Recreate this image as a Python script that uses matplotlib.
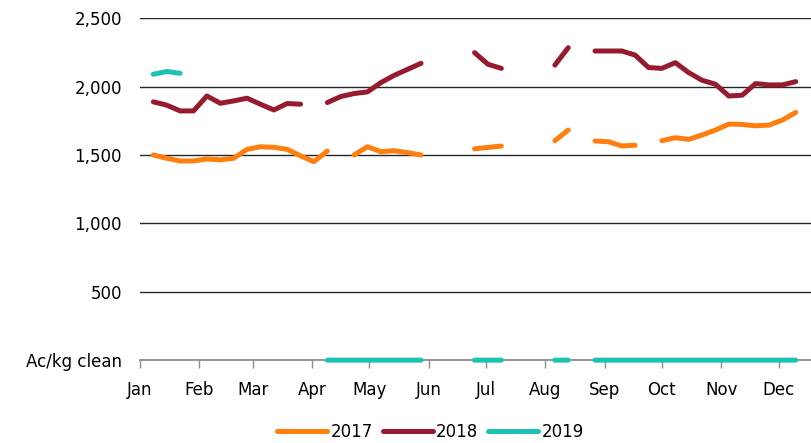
import matplotlib

matplotlib.use("Agg")
import matplotlib.pyplot as plt
import numpy as np

nan = np.nan

# Weekly sale index (week 1 = 7 Jan), values in Ac/kg clean
WEEKS = list(range(1, 50))
Y2017 = [1500, 1476, 1456, 1456, 1471, 1464, 1476, 1541, 1560, 1556, 1541, 1493, 1451, 1529,
         nan, 1500, 1560, 1524, 1531, 1517, 1500, nan, nan, nan, 1545, 1555, 1565,
         nan, nan, nan, 1604, 1682, nan, 1602, 1597, 1566, 1571, nan,
         1604, 1626, 1614, 1646, 1682, 1726, 1723, 1713, 1718, 1755, 1811]
Y2018 = [1888, 1864, 1822, 1822, 1931, 1878, 1895, 1915, 1871, 1829, 1876, 1871, nan,
         1883, 1927, 1949, 1961, 2029, 2082, 2126, 2170, nan, nan, nan, 2248, 2163, 2133,
         nan, nan, nan, 2157, 2284, nan, 2260, 2260, 2260, 2230, 2139,
         2133, 2175, 2102, 2046, 2017, 1931, 1937, 2022, 2012, 2012, 2036]
Y2019 = [2090, 2110, 2097] + [nan] * 10 + [0] * 8 + [nan] * 3 + [0] * 3 + [nan] * 3 \
    + [0] * 2 + [nan] + [0] * 16

MONTHS = ["Jan", "Feb", "Mar", "Apr", "May", "Jun", "Jul", "Aug", "Sep", "Oct", "Nov", "Dec"]
MONTH_START = [0, 31, 59, 90, 120, 151, 181, 212, 243, 273, 304, 334]
Y_TICKS = [0, 500, 1000, 1500, 2000, 2500]
Y_LABELS = ["Ac/kg clean", "500", "1,000", "1,500", "2,000", "2,500"]

SERIES = [("2017", Y2017, "#FF7F0E"), ("2018", Y2018, "#971B2F"), ("2019", Y2019, "#1CC3B5")]

plt.rcParams["font.family"] = ["Liberation Sans Narrow", "DejaVu Sans"]

fig = plt.figure(figsize=(8.12, 4.43), dpi=100)
ax = fig.add_axes([0.1724, 0.187, 0.8276, 0.772])

days = np.array(WEEKS) * 7
for name, vals, color in SERIES:
    ax.plot(days, vals, color=color, lw=3.6, solid_capstyle="round",
            solid_joinstyle="round", label=name, clip_on=False, zorder=3)

ax.set_xlim(0, 351.5)
ax.set_ylim(0, 2500)
ax.set_yticks(Y_TICKS)
ax.set_yticklabels(Y_LABELS)
ax.set_xticks(MONTH_START)
ax.set_xticklabels(MONTHS)

for v in Y_TICKS[1:]:
    ax.axhline(v, color="#262626", lw=1.0, zorder=1)

for side in ("top", "right", "left"):
    ax.spines[side].set_visible(False)
ax.spines["bottom"].set_color("#8c8c8c")
ax.spines["bottom"].set_linewidth(1.3)
ax.spines["bottom"].set_zorder(2)

ax.tick_params(axis="y", length=0, pad=13, labelsize=12, colors="#000000")
ax.tick_params(axis="x", length=6, width=1.0, color="#8c8c8c", pad=9,
               labelsize=12, labelcolor="#000000")

fig.legend(loc="lower center", bbox_to_anchor=(0.53, -0.03), ncol=3, frameon=False,
           fontsize=12, handlelength=3.0, handletextpad=0.2, columnspacing=0.6)

fig.savefig("out.png", dpi=100, facecolor="white")
